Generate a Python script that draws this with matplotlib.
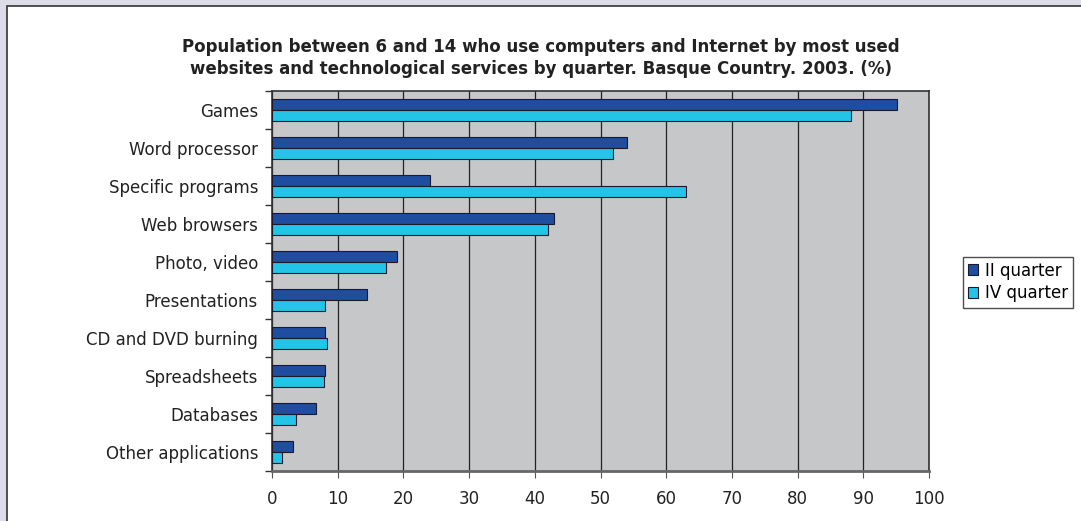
import matplotlib.pyplot as plt
import numpy as np
from matplotlib.patches import Rectangle

categories = ['Games', 'Word processor', 'Specific programs', 'Web browsers',
              'Photo, video', 'Presentations', 'CD and DVD burning',
              'Spreadsheets', 'Databases', 'Other applications']
q2 = [95.1, 54.0, 24.0, 42.9, 19.0, 14.4, 8.1, 8.1, 6.7, 3.2]
q4 = [88.1, 51.9, 63.0, 42.0, 17.4, 8.1, 8.3, 7.9, 3.6, 1.5]
series_names = ['II quarter', 'IV quarter']
xticks = list(range(0, 101, 10))

fig = plt.figure(figsize=(10.81, 5.21), dpi=100)
fig.patch.set_facecolor('#dcdde9')
fig.add_artist(Rectangle((7 / 1081, -0.1), 1.2, (521 - 6) / 521 + 0.1,
                         transform=fig.transFigure, facecolor='white',
                         edgecolor='#333333', linewidth=1.2, zorder=0))

ax = fig.add_axes([272 / 1081, 1 - 471 / 521, (929 - 272) / 1081, (471 - 91) / 521])
ax.set_facecolor('#c6c7c9')

n = len(categories)
y = np.arange(n)
h = 0.29
ax.barh(y - h / 2, q2, height=h, color='#1f4ea0', edgecolor='#1a1a2a',
        linewidth=0.8, label=series_names[0], zorder=3)
ax.barh(y + h / 2, q4, height=h, color='#24c3e8', edgecolor='#1a1a2a',
        linewidth=0.8, label=series_names[1], zorder=3)

ax.set_ylim(n - 0.5, -0.5)
ax.set_xlim(0, 100)
ax.set_yticks(y)
ax.set_yticklabels(categories, fontsize=12, color='#222222')
ax.set_yticks(np.arange(-0.5, n, 1), minor=True)
ax.tick_params(axis='y', which='major', length=0, pad=10)
ax.tick_params(axis='y', which='minor', length=5, width=1, color='#333333')
ax.set_xticks(xticks)
ax.tick_params(axis='x', length=5, width=0.8, labelsize=12, pad=9,
               color='#555555', labelcolor='#222222')
ax.grid(axis='x', color='#222222', linewidth=0.9, zorder=1)
for s in ax.spines.values():
    s.set_color('#333333')
    s.set_linewidth(1.2)
ax.spines['bottom'].set_color('#666666')
ax.spines['bottom'].set_linewidth(2)

fig.text(0.5, 1 - 58 / 521,
         'Population between 6 and 14 who use computers and Internet by most used\n'
         'websites and technological services by quarter. Basque Country. 2003. (%)',
         ha='center', va='center', fontsize=12, fontweight='bold',
         color='#222222', linespacing=1.25)

leg = ax.legend(loc='center left', bbox_to_anchor=(963 / 1081, 1 - 282 / 521),
                bbox_transform=fig.transFigure, frameon=True, fancybox=False,
                fontsize=12, handlelength=0.6, handleheight=0.6,
                handletextpad=0.4, borderpad=0.3, labelspacing=0.3,
                borderaxespad=0)
leg.get_frame().set_edgecolor('#222222')
leg.get_frame().set_linewidth(1)

fig.savefig('out.png', dpi=100, facecolor=fig.get_facecolor())
